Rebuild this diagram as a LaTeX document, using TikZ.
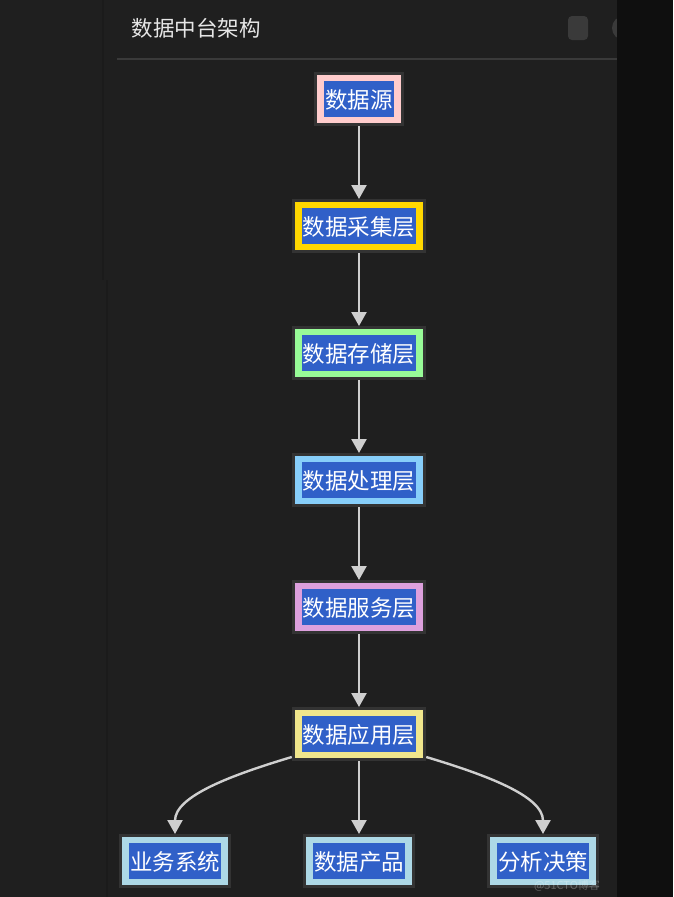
\documentclass[tikz,border=0pt]{standalone}
\usepackage{fontspec}
\setmainfont{Noto Sans CJK SC}
\usetikzlibrary{arrows.meta}
\definecolor{bg}{HTML}{1F1F1F}
\definecolor{strip}{HTML}{0F0F0F}
\definecolor{nodeborder}{HTML}{333333}
\definecolor{hlblue}{HTML}{3060C8}
\definecolor{arrowgray}{HTML}{CFCFCF}
\definecolor{titlegray}{HTML}{E6E6E6}
\definecolor{rulegray}{HTML}{3A3A3A}
\definecolor{cpink}{HTML}{FFCCCC}
\definecolor{cgold}{HTML}{FFD700}
\definecolor{cgreen}{HTML}{98FB98}
\definecolor{csky}{HTML}{87CEFA}
\definecolor{cplum}{HTML}{DDA0DD}
\definecolor{ckhaki}{HTML}{F0E68C}
\definecolor{clight}{HTML}{ADD8E6}
\newcommand{\hlt}[1]{{\setlength{\fboxsep}{1pt}\colorbox{hlblue}{\rule[-7.5pt]{0pt}{34pt}\textcolor{white}{#1}}}}
\begin{document}
\begin{tikzpicture}[x=1pt,y=-1pt,
  layer/.style={draw=nodeborder, line width=3pt, minimum height=51pt, inner xsep=8.5pt, inner ysep=0pt, font=\fontsize{22.5}{26}\selectfont},
  arr/.style={draw=arrowgray, line width=2.4pt, -{Triangle[length=14pt,width=15pt,fill=arrowgray]}}]
\fill[bg] (0,0) rectangle (673,897);
\useasboundingbox (0,0) rectangle (673,897);
% subtle panel edges
\draw[color=black, opacity=0.12, line width=2pt] (103,0) -- (103,280);
\draw[color=black, opacity=0.1, line width=1.5pt] (107,280) -- (107,897);
% top-right icons
\fill[rulegray, rounded corners=4pt] (568,16) rectangle (588,40);
\fill[rulegray] (624,28) circle (12);
\fill[strip] (617,0) rectangle (673,897);
% title
\node[anchor=west, text=titlegray, font=\fontsize{21.5}{25}\selectfont] (title) at (128,28) {数据中台架构};
\draw[rulegray, line width=1.5pt] (117,59) -- (617,59);
% nodes
\node[layer, fill=cpink] (src) at (359,99) {\hlt{数据源}};
\node[layer, fill=cgold] (col) at (359,226) {\hlt{数据采集层}};
\node[layer, fill=cgreen] (sto) at (359,353) {\hlt{数据存储层}};
\node[layer, fill=csky] (pro) at (359,480) {\hlt{数据处理层}};
\node[layer, fill=cplum] (ser) at (359,607) {\hlt{数据服务层}};
\node[layer, fill=ckhaki] (app) at (359,734) {\hlt{数据应用层}};
\node[layer, fill=clight] (biz) at (175,861) {\hlt{业务系统}};
\node[layer, fill=clight] (prd) at (359,861) {\hlt{数据产品}};
\node[layer, fill=clight] (dec) at (543,861) {\hlt{分析决策}};
% connectors
\draw[arr] (src) -- (col);
\draw[arr] (col) -- (sto);
\draw[arr] (sto) -- (pro);
\draw[arr] (pro) -- (ser);
\draw[arr] (ser) -- (app);
\draw[arr] (app) -- (prd);
\draw[arr] ([yshift=4pt]app.south west) .. controls +(-60,18) and +(0,-38) .. (biz.north);
\draw[arr] ([yshift=4pt]app.south east) .. controls +(60,18) and +(0,-38) .. (dec.north);
% watermark
\node[text=white, opacity=0.28, font=\fontsize{11}{13}\selectfont] (wm) at (567,886) {@51CTO博客};
\end{tikzpicture}
\end{document}
